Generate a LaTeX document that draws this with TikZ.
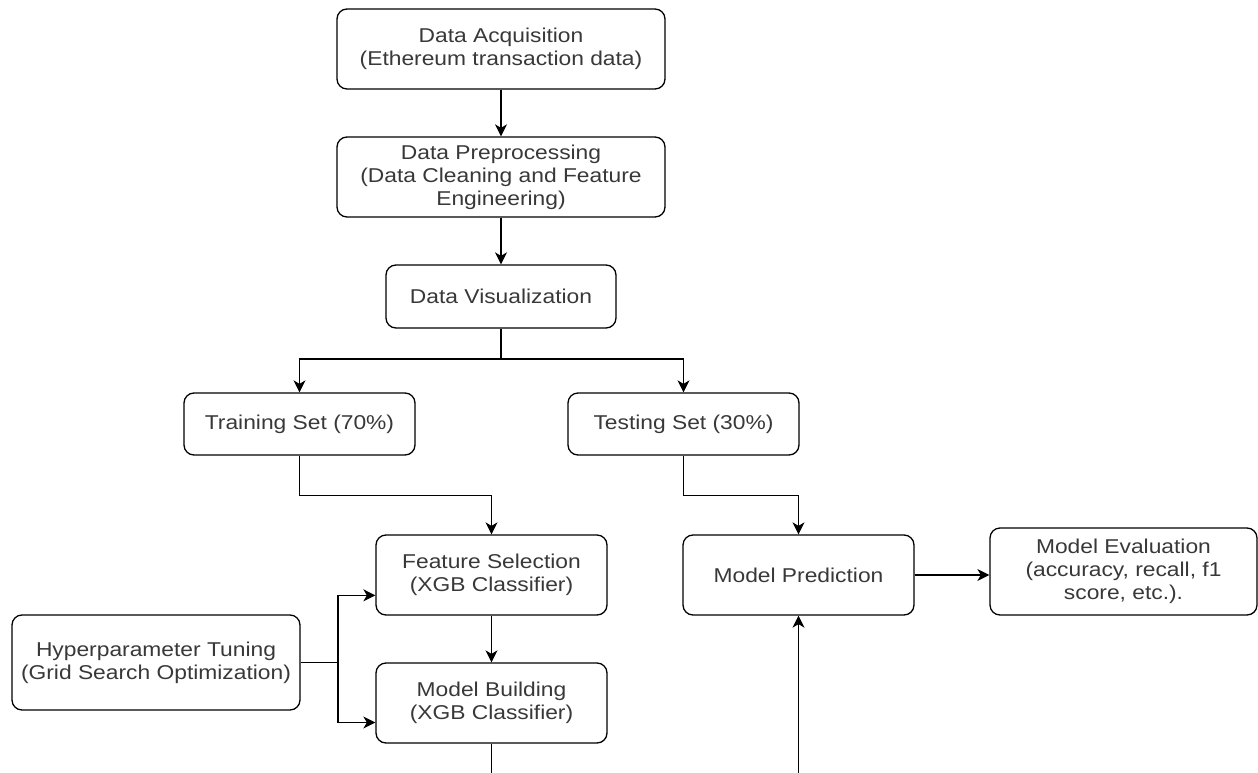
\documentclass[tikz,border=0pt]{standalone}
\usepackage{fontspec}
\setmainfont[FakeStretch=1.14]{Liberation Sans}
\usetikzlibrary{arrows.meta,calc}
\begin{document}
\begin{tikzpicture}[x=1pt,y=-1pt,
  box/.style={draw=black, line width=1.3pt, rounded corners=10pt, align=center,
    text=black!78, font=\fontsize{20}{23}\selectfont, inner sep=0pt},
  conn/.style={line width=1.3pt, draw=black},
  arr/.style={conn, -{Stealth[length=12pt,width=12pt,inset=3.5pt]}}]
\useasboundingbox (0,0) rectangle (1258,773);
\node[box, minimum width=328pt, minimum height=80pt] (acq) at (501,49)
  {Data Acquisition\\(Ethereum transaction data)};
\node[box, minimum width=328pt, minimum height=80pt] (pre) at (501,177)
  {Data Preprocessing\\(Data Cleaning and Feature\\Engineering)};
\node[box, minimum width=230pt, minimum height=63pt] (vis) at (501,296.5)
  {Data Visualization};
\node[box, minimum width=231pt, minimum height=62pt] (train) at (299.5,424)
  {Training Set (70\%)};
\node[box, minimum width=231pt, minimum height=62pt] (test) at (683.5,424)
  {Testing Set (30\%)};
\node[box, minimum width=231pt, minimum height=80pt] (fs) at (491.5,575)
  {Feature Selection\\(XGB Classifier)};
\node[box, minimum width=231pt, minimum height=80pt] (mb) at (491.5,703)
  {Model Building\\(XGB Classifier)};
\node[box, minimum width=231pt, minimum height=80pt] (mp) at (798.5,575)
  {Model Prediction};
\node[box, minimum width=267pt, minimum height=87pt] (me) at (1123.5,571.5)
  {Model Evaluation\\(accuracy, recall, f1\\score, etc.).};
\node[box, minimum width=288pt, minimum height=95pt] (hyp) at (156,662.5)
  {Hyperparameter Tuning\\(Grid Search Optimization)};

\draw[arr] (acq) -- (pre);
\draw[arr] (pre) -- (vis);
\coordinate (split) at (501,359);
\draw[arr] (vis.south) -- (split) -| (train.north);
\draw[arr] (split) -| (test.north);
\draw[arr] (train.south) -- ++(0,40) -| (fs.north);
\draw[arr] (test.south) -- ++(0,40) -| (mp.north);
\coordinate (hj) at (338,662.5);
\draw[conn] (hyp.east) -- (hj);
\draw[arr] (hj) |- ($(fs.south west)!0.25!(fs.north west)$);
\draw[arr] (hj) |- ($(mb.south west)!0.26!(mb.north west)$);
\draw[arr] (fs) -- (mb);
\coordinate (mbend) at (491.5,773);
\draw[conn] (mb.south) -- (mbend);
\coordinate (mpstart) at (798.5,773);
\draw[arr] (mpstart) -- (mp.south);
\draw[arr] (mp.east) -- (mp.east -| me.west);
\end{tikzpicture}
\end{document}
